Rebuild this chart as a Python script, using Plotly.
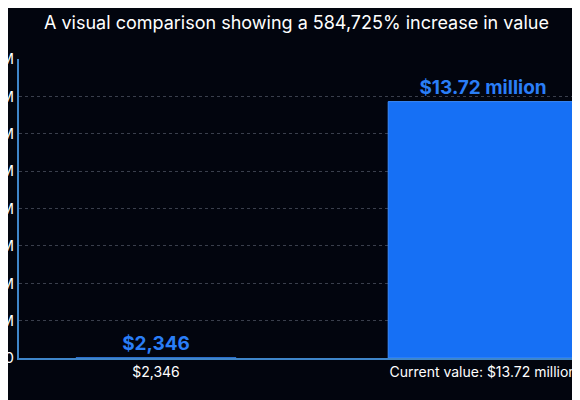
import plotly.graph_objects as go

categories = ["$2,346", "Current value: $13.72 million"]
values = [2346, 13720000]
bar_labels = ["<b>$2,346</b>", "<b>$13.72 million</b>"]
tick_vals = [0, 2e6, 4e6, 6e6, 8e6, 10e6, 12e6, 14e6, 16e6]
tick_text = ["0", "2M", "4M", "6M", "8M", "10M", "12M", "14M", "16M"]
positions = [0, 1]
widths = [0.49, 0.58]

fig = go.Figure()
fig.add_trace(go.Bar(
    x=positions, y=values, width=widths,
    marker=dict(color="#1670f5", line=dict(color="#3a8cff", width=1)),
    text=bar_labels, textposition="outside", cliponaxis=False,
    textfont=dict(color="#2a7ef7", size=19, family="Inter"),
))
fig.update_layout(
    width=580, height=400,
    paper_bgcolor="#02050e", plot_bgcolor="#02050e",
    margin=dict(l=11, r=0, t=51, b=50),
    showlegend=False,
    font=dict(family="Inter", color="white"),
    annotations=[dict(text="A visual comparison showing a 584,725% increase in value",
                      xref="paper", yref="paper", x=(34-11)/569, y=1, yshift=37,
                      xanchor="left", yanchor="middle", showarrow=False,
                      font=dict(size=18, color="white"))],
)
fig.update_xaxes(range=[-0.419, 1.321], tickvals=positions, ticktext=categories,
                 showgrid=False, showline=True, linecolor="#3f86c9", linewidth=2,
                 tickfont=dict(size=14, color="white"), zeroline=False, automargin=False)
fig.update_yaxes(range=[0, 16e6], tickvals=tick_vals, ticktext=tick_text,
                 showgrid=True, gridcolor="#3a3f4c", griddash="dot", gridwidth=1,
                 showline=True, linecolor="#3f86c9", linewidth=2, zeroline=False,
                 tickfont=dict(size=15, color="white"), automargin=False)
fig.write_html("out.html")
